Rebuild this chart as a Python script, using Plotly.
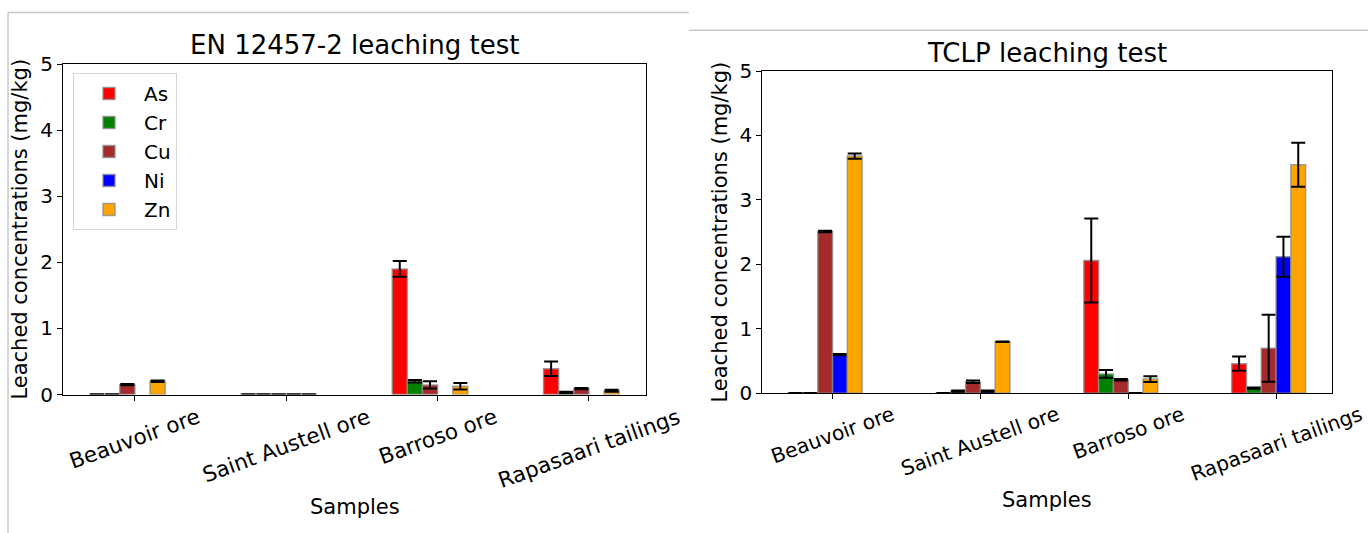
import plotly.graph_objects as go

W, H = 1368, 533

categories = ["Beauvoir ore", "Saint Austell ore", "Barroso ore", "Rapasaari tailings"]
metals = ["As", "Cr", "Cu", "Ni", "Zn"]
colors = ["#ff0000", "#008000", "#a52a2a", "#0000ff", "#ffa500"]

# EN 12457-2 leaching test (mg/kg)
en_As = [0.005, 0.005, 1.90, 0.39]
en_Cr = [0.005, 0.005, 0.20, 0.03]
en_Cu = [0.15, 0.005, 0.145, 0.09]
en_Ni = [None, 0.005, None, None]
en_Zn = [0.20, 0.005, 0.125, 0.055]
en_As_err = [0.0, 0.0, 0.12, 0.11]
en_Cr_err = [0.0, 0.0, 0.02, 0.01]
en_Cu_err = [0.01, 0.0, 0.055, 0.01]
en_Ni_err = [0.0, 0.0, 0.0, 0.0]
en_Zn_err = [0.01, 0.0, 0.05, 0.015]

# TCLP leaching test (mg/kg)
tclp_As = [0.005, 0.005, 2.06, 0.46]
tclp_Cr = [0.005, 0.035, 0.30, 0.08]
tclp_Cu = [2.51, 0.18, 0.21, 0.70]
tclp_Ni = [0.60, 0.035, 0.005, 2.12]
tclp_Zn = [3.68, 0.80, 0.22, 3.545]
tclp_As_err = [0.0, 0.0, 0.65, 0.11]
tclp_Cr_err = [0.0, 0.01, 0.06, 0.01]
tclp_Cu_err = [0.01, 0.02, 0.01, 0.52]
tclp_Ni_err = [0.01, 0.01, 0.0, 0.31]
tclp_Zn_err = [0.04, 0.005, 0.045, 0.34]

y_ticks = [0, 1, 2, 3, 4, 5]

en_vals = [en_As, en_Cr, en_Cu, en_Ni, en_Zn]
en_errs = [en_As_err, en_Cr_err, en_Cu_err, en_Ni_err, en_Zn_err]
tclp_vals = [tclp_As, tclp_Cr, tclp_Cu, tclp_Ni, tclp_Zn]
tclp_errs = [tclp_As_err, tclp_Cr_err, tclp_Cu_err, tclp_Ni_err, tclp_Zn_err]

FONT = "DejaVu Sans"
bar_w = 0.1

fig = go.Figure()
for panel, (vals, errs) in enumerate([(en_vals, en_errs), (tclp_vals, tclp_errs)]):
    xa = "x" if panel == 0 else "x2"
    ya = "y" if panel == 0 else "y2"
    for k, m in enumerate(metals):
        fig.add_trace(go.Bar(
            x=categories, y=vals[k], name=m,
            xaxis=xa, yaxis=ya,
            width=bar_w, offset=(k - 3) * bar_w,
            marker=dict(color=colors[k], line=dict(color="rgba(140,140,140,0.8)", width=1.5)),
            error_y=dict(type="data", array=errs[k], visible=True, color="black",
                         thickness=2, width=7),
            legendgroup=m, showlegend=(panel == 0),
        ))

def px_x(v):
    return v / W

def px_y(v):
    return 1 - v / H

axis_common = dict(showline=True, linecolor="black", linewidth=1.2, mirror=True,
                   ticks="outside", ticklen=5, tickwidth=1.2, tickcolor="black",
                   showgrid=False, zeroline=False, automargin=False)

fig.update_layout(
    width=W, height=H,
    margin=dict(l=0, r=0, t=0, b=0, pad=0, autoexpand=False),
    paper_bgcolor="white", plot_bgcolor="white",
    barmode="overlay",
    font=dict(family=FONT, color="black"),
    xaxis=dict(domain=[px_x(63), px_x(645.7)], anchor="y", type="category",
               range=[-0.475, 3.375], showticklabels=False, **axis_common),
    yaxis=dict(domain=[px_y(394.5), px_y(64)], anchor="x", range=[0, 5],
               tickvals=y_ticks, tickfont=dict(size=20),
               title=dict(text="Leached concentrations (mg/kg)", font=dict(size=21), standoff=6),
               **axis_common),
    xaxis2=dict(domain=[px_x(762.3), px_x(1331.5)], anchor="y2", type="category",
                range=[-0.475, 3.375], showticklabels=False, **axis_common),
    yaxis2=dict(domain=[px_y(393.3), px_y(71)], anchor="x2", range=[0, 5],
                tickvals=y_ticks, tickfont=dict(size=20),
                title=dict(text="Leached concentrations (mg/kg)", font=dict(size=21), standoff=6),
                **axis_common),
    legend=dict(x=px_x(73), y=px_y(73), xanchor="left", yanchor="top",
                bgcolor="white", bordercolor="#d5d5d5", borderwidth=1,
                font=dict(size=20), tracegroupgap=9, traceorder="normal",
                itemwidth=60),
)

annotations = []
# titles
annotations.append(dict(text="EN 12457-2 leaching test", x=px_x(354.5), y=px_y(45),
                        xref="paper", yref="paper", showarrow=False,
                        font=dict(size=26), xanchor="center", yanchor="middle"))
annotations.append(dict(text="TCLP leaching test", x=px_x(1047), y=px_y(53),
                        xref="paper", yref="paper", showarrow=False,
                        font=dict(size=26), xanchor="center", yanchor="middle"))
# x tick labels (rotated, centered on ticks)
for xr, ytop, fs in [("x", 401, 21.5), ("x2", 399, 20.3)]:
    for c in categories:
        annotations.append(dict(text=c, x=c, xref=xr, y=px_y(ytop), yref="paper",
                                showarrow=False, textangle=-20, font=dict(size=fs),
                                xanchor="center", yanchor="top"))
# x axis titles
annotations.append(dict(text="Samples", x=px_x(354.5), y=px_y(507), xref="paper", yref="paper",
                        showarrow=False, font=dict(size=21), xanchor="center", yanchor="middle"))
annotations.append(dict(text="Samples", x=px_x(1047), y=px_y(500), xref="paper", yref="paper",
                        showarrow=False, font=dict(size=21), xanchor="center", yanchor="middle"))
fig.update_layout(annotations=annotations)

# light gray screenshot frame lines
frame = dict(type="line", xref="paper", yref="paper", line=dict(color="#c8c8c8", width=1.5))
fig.update_layout(shapes=[
    dict(frame, x0=px_x(8), x1=px_x(689), y0=px_y(12.5), y1=px_y(12.5)),
    dict(frame, x0=px_x(8), x1=px_x(8), y0=px_y(12.5), y1=0),
    dict(frame, x0=px_x(689), x1=1, y0=px_y(30.3), y1=px_y(30.3)),
])

fig.write_html("out.html")
